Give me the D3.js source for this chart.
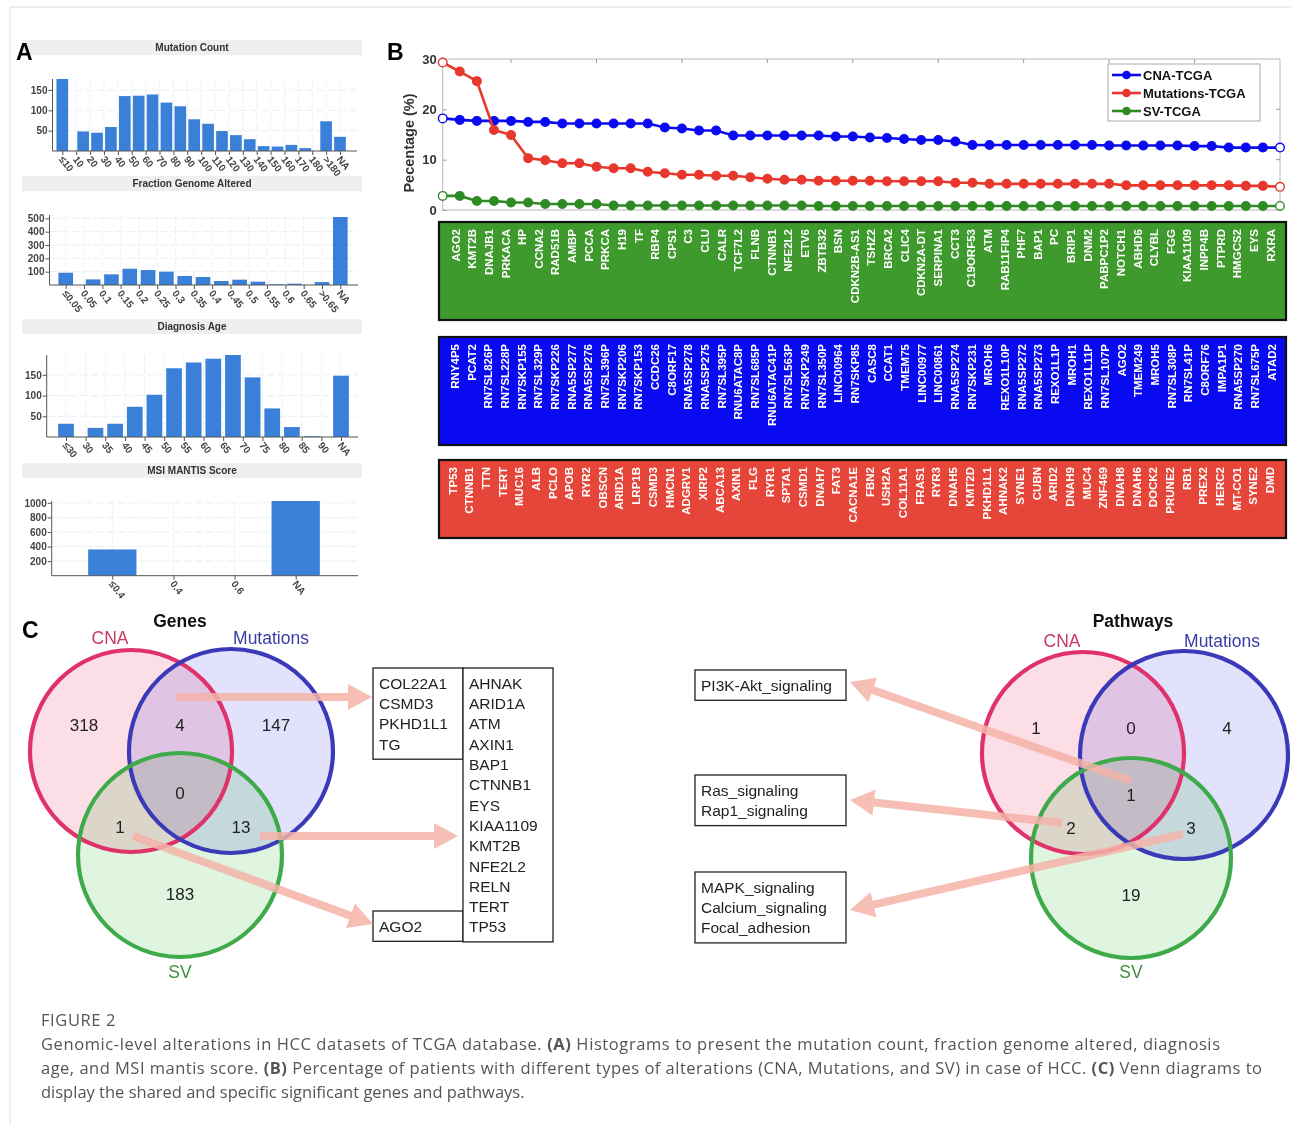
<!DOCTYPE html>
<html lang="en">
<head>
<meta charset="UTF-8">
<title>Figure 2 - Genomic-level alterations in HCC (TCGA)</title>
<script src="https://d3js.org/d3.v7.min.js"></script>
<style>
	body { margin: 0; background: #fff; }
	svg { display: block; }
	.htitle { font-family: "Liberation Sans", Arial, sans-serif; font-size: 10px; font-weight: bold; fill: #333; }
	.hax text { font-family: "Liberation Sans", Arial, sans-serif; font-size: 10px; font-weight: bold; fill: #444; }
	.hax path, .hax line { stroke: #555; }
	.bax text { font-family: "Liberation Sans", Arial, sans-serif; font-size: 13px; font-weight: bold; fill: #333; }
	.gene { font-family: "Liberation Sans", Arial, sans-serif; font-size: 11.5px; font-weight: bold; fill: #fff; }
	.venn { font-family: "Liberation Sans", Arial, sans-serif; }
	.cap { font-family: "Open Sans", "Noto Sans", sans-serif; fill: #555; }
</style>
</head>
<body>
<svg id="fig" width="1292" height="1124"></svg>
<script>

	// ---------- panel A : histograms ----------
	var mutTicks = ["≤10", "10", "20", "30", "40", "50", "60", "70", "80", "90", "100", "110", "120", "130", "140", "150", "160", "170", "180", ">180", "NA"];
	var mutBins = ["≤10", "10-20", "20-30", "30-40", "40-50", "50-60", "60-70", "70-80", "80-90", "90-100", "100-110", "110-120", "120-130", "130-140", "140-150", "150-160", "160-170", "170-180", ">180", "NA"];
	var mutCounts = [177, 48, 45, 59, 135, 136, 139, 119, 110, 78, 67, 49, 39, 29, 12, 11, 15, 7, 73, 35];

	var fgaTicks = ["≤0.05", "0.05", "0.1", "0.15", "0.2", "0.25", "0.3", "0.35", "0.4", "0.45", "0.5", "0.55", "0.6", "0.65", ">0.65", "NA"];
	var fgaBins = ["≤0.05", "0.05-0.1", "0.1-0.15", "0.15-0.2", "0.2-0.25", "0.25-0.3", "0.3-0.35", "0.35-0.4", "0.4-0.45", "0.45-0.5", "0.5-0.55", "0.55-0.6", "0.6-0.65", ">0.65", "NA"];
	var fgaCounts = [92, 42, 80, 122, 112, 100, 68, 60, 30, 40, 25, 5, 10, 22, 510];

	var ageTicks = ["≤30", "30", "35", "40", "45", "50", "55", "60", "65", "70", "75", "80", "85", "90", "NA"];
	var ageBins = ["≤30", "30-35", "35-40", "40-45", "45-50", "50-55", "55-60", "60-65", "65-70", "70-75", "75-80", "80-85", "85-90", "NA"];
	var ageCounts = [32, 22, 32, 73, 102, 166, 180, 189, 198, 144, 69, 24, 2, 148];

	var msiTicks = ["≤0.4", "0.4", "0.6", "NA"];
	var msiBins = ["≤0.4", "0.4-0.6", "NA"];
	var msiCounts = [360, 0, 1025];

	// ---------- panel B : percentage of patients ----------
	var cnaPct = [18.2, 17.9, 17.7, 17.7, 17.7, 17.5, 17.5, 17.2, 17.2, 17.2, 17.2, 17.2, 17.2, 16.4, 16.2, 15.8, 15.8, 14.8, 14.8, 14.8,
		14.8, 14.8, 14.8, 14.6, 14.6, 14.4, 14.3, 14.1, 13.9, 13.9, 13.6, 12.9, 12.9, 12.9, 12.9, 12.9, 12.9, 12.9, 12.9, 12.8,
		12.8, 12.8, 12.8, 12.8, 12.7, 12.7, 12.4, 12.4, 12.4, 12.4];
	var mutPct = [29.3, 27.5, 25.6, 15.9, 14.9, 10.3, 9.9, 9.3, 9.3, 8.6, 8.3, 8.3, 7.6, 7.3, 7.0, 7.0, 6.8, 6.8, 6.5, 6.2,
		6.0, 6.0, 5.8, 5.8, 5.8, 5.8, 5.7, 5.7, 5.7, 5.7, 5.4, 5.4, 5.2, 5.2, 5.2, 5.2, 5.2, 5.2, 5.2, 5.2,
		4.9, 4.9, 4.9, 4.9, 4.9, 4.9, 4.9, 4.8, 4.8, 4.6];
	var svPct = [2.8, 2.8, 1.8, 1.8, 1.5, 1.5, 1.2, 1.2, 1.2, 1.2, 0.9, 0.9, 0.9, 0.9, 0.9, 0.9, 0.9, 0.9, 0.9, 0.9,
		0.9, 0.9, 0.8, 0.8, 0.8, 0.8, 0.8, 0.8, 0.8, 0.8, 0.8, 0.8, 0.8, 0.8, 0.8, 0.8, 0.8, 0.8, 0.8, 0.8,
		0.8, 0.8, 0.8, 0.8, 0.8, 0.8, 0.8, 0.8, 0.8, 0.8];
	var seriesNames = ["CNA-TCGA", "Mutations-TCGA", "SV-TCGA"];

	var svGenes = ["AGO2", "KMT2B", "DNAJB1", "PRKACA", "HP", "CCNA2", "RAD51B", "AMBP", "PCCA", "PRKCA", "H19", "TF", "RBP4", "CPS1", "C3", "CLU", "CALR", "TCF7L2", "FLNB", "CTNNB1",
		"NFE2L2", "ETV6", "ZBTB32", "BSN", "CDKN2B-AS1", "TSHZ2", "BRCA2", "CLIC4", "CDKN2A-DT", "SERPINA1", "CCT3", "C19ORF53", "ATM", "RAB11FIP4", "PHF7", "BAP1", "PC", "BRIP1", "DNM2", "PABPC1P2",
		"NOTCH1", "ABHD6", "CLYBL", "FGG", "KIAA1109", "INPP4B", "PTPRD", "HMGCS2", "EYS", "RXRA"];
	var cnaGenes = ["RNY4P5", "PCAT2", "RN7SL826P", "RN7SL228P", "RN7SKP155", "RN7SL329P", "RN7SKP226", "RNA5SP277", "RNA5SP276", "RN7SL396P", "RN7SKP206", "RN7SKP153", "CCDC26", "C8ORF17", "RNA5SP278", "RNA5SP275", "RN7SL395P", "RNU6ATAC8P", "RN7SL685P", "RNU6ATAC41P",
		"RN7SL563P", "RN7SKP249", "RN7SL350P", "LINC00964", "RN7SKP85", "CASC8", "CCAT1", "TMEM75", "LINC00977", "LINC00861", "RNA5SP274", "RN7SKP231", "MROH6", "REXO1L10P", "RNA5SP272", "RNA5SP273", "REXO1L1P", "MROH1", "REXO1L11P", "RN7SL107P",
		"AGO2", "TMEM249", "MROH5", "RN7SL308P", "RN7SL41P", "C8ORF76", "IMPA1P1", "RNA5SP270", "RN7SL675P", "ATAD2"];
	var mutGenes = ["TP53", "CTNNB1", "TTN", "TERT", "MUC16", "ALB", "PCLO", "APOB", "RYR2", "OBSCN", "ARID1A", "LRP1B", "CSMD3", "HMCN1", "ADGRV1", "XIRP2", "ABCA13", "AXIN1", "FLG", "RYR1",
		"SPTA1", "CSMD1", "DNAH7", "FAT3", "CACNA1E", "FBN2", "USH2A", "COL11A1", "FRAS1", "RYR3", "DNAH5", "KMT2D", "PKHD1L1", "AHNAK2", "SYNE1", "CUBN", "ARID2", "DNAH9", "MUC4", "ZNF469",
		"DNAH8", "DNAH6", "DOCK2", "PRUNE2", "RB1", "PREX2", "HERC2", "MT-CO1", "SYNE2", "DMD"];

	// ---------- panel C : venn diagrams ----------
	var vennSets = ["CNA", "Mutations", "SV"];
	// regions: CNA only, CNA&Mut, Mut only, all three, CNA&SV, Mut&SV, SV only
	var geneCounts = [318, 4, 147, 0, 1, 13, 183];
	var pathCounts = [1, 0, 4, 1, 2, 3, 19];
	var geneBoxCnaMut = ["COL22A1", "CSMD3", "PKHD1L1", "TG"];
	var geneBoxCnaSv = ["AGO2"];
	var geneBoxMutSv = ["AHNAK", "ARID1A", "ATM", "AXIN1", "BAP1", "CTNNB1", "EYS", "KIAA1109", "KMT2B", "NFE2L2", "RELN", "TERT", "TP53"];
	var pathBoxAll = ["PI3K-Akt_signaling"];
	var pathBoxCnaSv = ["Ras_signaling", "Rap1_signaling"];
	var pathBoxMutSv = ["MAPK_signaling", "Calcium_signaling", "Focal_adhesion"];

	var svg = d3.select("#fig");

	// page frame
	svg.append("line").attr("x1", 10).attr("y1", 7).attr("x2", 1292).attr("y2", 7).attr("stroke", "#ddd");
	svg.append("line").attr("x1", 10).attr("y1", 7).attr("x2", 10).attr("y2", 1124).attr("stroke", "#ddd");

	function panelLetter(t, x, y) {
		svg.append("text").attr("x", x).attr("y", y).text(t)
			.attr("font-family", "Liberation Sans, Arial, sans-serif")
			.attr("font-size", 23).attr("font-weight", "bold").attr("fill", "#000");
	}

	// position of a bin in tick units: on its own tick, or half way between two ticks
	function binPos(bin, ticks) {
		var i = ticks.indexOf(bin);
		if (i >= 0) return i;
		var p = bin.split("-");
		return (ticks.indexOf(p[0]) + ticks.indexOf(p[1])) / 2;
	}

	function drawHist(o) {
		var g = svg.append("g");
		g.append("rect").attr("x", 22).attr("y", o.head).attr("width", 340).attr("height", 15).attr("fill", "#efefef");
		g.append("text").attr("class", "htitle").attr("x", 192).attr("y", o.head + 10.5)
			.attr("text-anchor", "middle").text(o.title);

		var x = d3.scaleLinear().domain([0, o.ticks.length - 1]).range(o.xr);
		var y = d3.scaleLinear().domain([0, o.yMax]).range([o.base, o.top]);

		// light grid
		g.selectAll("line.gy").data(o.yTicks).enter().append("line")
			.attr("x1", o.x0).attr("x2", o.x1)
			.attr("y1", function (d) { return y(d); }).attr("y2", function (d) { return y(d); })
			.attr("stroke", "#e9eef2").attr("stroke-dasharray", "8,3");
		g.selectAll("line.gx").data(d3.range(o.ticks.length)).enter().append("line")
			.attr("x1", function (d) { return x(d); }).attr("x2", function (d) { return x(d); })
			.attr("y1", o.top).attr("y2", o.base)
			.attr("stroke", "#eef2f5").attr("stroke-dasharray", "8,3");

		var bw = (x(1) - x(0)) * o.bw;
		g.selectAll("rect.bar").data(o.counts).enter().append("rect")
			.attr("x", function (d, i) { return x(binPos(o.bins[i], o.ticks)) - bw / 2; })
			.attr("y", function (d) { return y(d); })
			.attr("width", bw)
			.attr("height", function (d) { return o.base - y(d); })
			.attr("fill", "#3b80d8");

		var ya = g.append("g").attr("class", "hax").attr("transform", "translate(" + o.x0 + ",0)")
			.call(d3.axisLeft(y).tickValues(o.yTicks).tickFormat(d3.format("d")).tickSize(4).tickPadding(1).tickSizeOuter(0));
		ya.select(".domain").attr("d", "M0," + o.base + "V" + o.top);

		var xa = g.append("g").attr("class", "hax").attr("transform", "translate(0," + o.base + ")")
			.call(d3.axisBottom(x).tickValues(d3.range(o.ticks.length))
				.tickFormat(function (i) { return o.ticks[i]; }).tickSize(4).tickSizeOuter(0));
		xa.select(".domain").attr("d", "M" + o.x0 + ",0H" + o.x1);
		xa.selectAll("text").attr("transform", "rotate(52)").attr("x", 4).attr("y", 5)
			.attr("dy", "0.35em").style("text-anchor", "start");
	}

	drawHist({ title: "Mutation Count", head: 40, ticks: mutTicks, bins: mutBins, counts: mutCounts,
		x0: 52.5, x1: 357, xr: [62.3, 340], base: 151, top: 79, yMax: 177, yTicks: [50, 100, 150], bw: 0.84 });
	drawHist({ title: "Fraction Genome Altered", head: 176, ticks: fgaTicks, bins: fgaBins, counts: fgaCounts,
		x0: 49.5, x1: 358, xr: [65.7, 340.3], base: 285, top: 215, yMax: 525, yTicks: [100, 200, 300, 400, 500], bw: 0.8 });
	drawHist({ title: "Diagnosis Age", head: 319, ticks: ageTicks, bins: ageBins, counts: ageCounts,
		x0: 46.7, x1: 358, xr: [66, 341], base: 437, top: 355, yMax: 198, yTicks: [50, 100, 150], bw: 0.8 });
	drawHist({ title: "MSI MANTIS Score", head: 463, ticks: msiTicks, bins: msiBins, counts: msiCounts,
		x0: 51.7, x1: 358, xr: [112.3, 295.7], base: 575.7, top: 501, yMax: 1025, yTicks: [200, 400, 600, 800, 1000], bw: 0.79 });

	// ---------- panel B ----------
	var bx = d3.scaleLinear().domain([1, 50]).range([442.7, 1280]);
	var by = d3.scaleLinear().domain([0, 30]).range([210, 59]);
	var bcol = ["#0a0af0", "#e8372c", "#2f8a24"];
	var bseries = [cnaPct, mutPct, svPct];

	var gb = svg.append("g");
	gb.append("rect").attr("x", bx(1)).attr("y", by(30)).attr("width", bx(50) - bx(1)).attr("height", by(0) - by(30))
		.attr("fill", "none").attr("stroke", "#b8b8b8").attr("stroke-width", 1);
	var xt = d3.range(5, 50, 5);
	gb.selectAll("line.tt").data(xt).enter().append("line")
		.attr("x1", function (d) { return bx(d); }).attr("x2", function (d) { return bx(d); })
		.attr("y1", by(30)).attr("y2", by(30) + 4).attr("stroke", "#999");
	gb.selectAll("line.rt").data([10, 20]).enter().append("line")
		.attr("x1", bx(50)).attr("x2", bx(50) - 4)
		.attr("y1", function (d) { return by(d); }).attr("y2", function (d) { return by(d); }).attr("stroke", "#999");
	var yaxB = gb.append("g").attr("class", "bax").attr("transform", "translate(" + bx(1) + ",0)")
		.call(d3.axisLeft(by).tickValues([0, 10, 20, 30]).tickSize(-4).tickPadding(6).tickSizeOuter(0));
	yaxB.select(".domain").remove();
	yaxB.selectAll("line").attr("stroke", "#999");
	gb.append("text").attr("transform", "translate(414,143) rotate(-90)").attr("text-anchor", "middle")
		.attr("font-family", "Liberation Sans, Arial, sans-serif").attr("font-size", 14.5).attr("font-weight", "bold")
		.attr("fill", "#333").text("Pecentage (%)");

	var line = d3.line().x(function (d, i) { return bx(i + 1); }).y(function (d) { return by(d); });
	bseries.forEach(function (s, k) {
		gb.append("path").datum(s).attr("d", line).attr("fill", "none")
			.attr("stroke", bcol[k]).attr("stroke-width", 2.6);
		gb.selectAll("circle.s" + k).data(s).enter().append("circle")
			.attr("cx", function (d, i) { return bx(i + 1); })
			.attr("cy", function (d) { return by(d); })
			.attr("r", 4.3)
			.attr("fill", function (d, i) { return (i === 0 || i === s.length - 1) ? "#fff" : bcol[k]; })
			.attr("stroke", bcol[k]).attr("stroke-width", 1.4);
	});

	// legend
	var lg = gb.append("g").attr("transform", "translate(1108,64)");
	lg.append("rect").attr("width", 152).attr("height", 57).attr("fill", "#fff").attr("stroke", "#aaa");
	seriesNames.forEach(function (n, k) {
		var yy = 11 + k * 18;
		lg.append("line").attr("x1", 4).attr("x2", 33).attr("y1", yy).attr("y2", yy).attr("stroke", bcol[k]).attr("stroke-width", 2.6);
		lg.append("circle").attr("cx", 18.5).attr("cy", yy).attr("r", 4.3).attr("fill", bcol[k]);
		lg.append("text").attr("x", 35).attr("y", yy + 5).text(n)
			.attr("font-family", "Liberation Sans, Arial, sans-serif").attr("font-size", 13).attr("font-weight", "bold").attr("fill", "#111");
	});

	// gene name strips
	function geneStrip(genes, fill, top, bottom, xr) {
		var g = svg.append("g");
		g.append("rect").attr("x", 439).attr("y", top).attr("width", 847).attr("height", bottom - top)
			.attr("fill", fill).attr("stroke", "#111").attr("stroke-width", 2.2);
		var px = d3.scalePoint().domain(genes).range(xr);
		g.selectAll("text").data(genes).enter().append("text").attr("class", "gene")
			.attr("transform", function (d) { return "translate(" + px(d) + "," + (top + 7) + ") rotate(-90)"; })
			.attr("dy", "0.36em").attr("text-anchor", "end").text(function (d) { return d; });
	}
	geneStrip(svGenes, "#3f9a2e", 222, 320, [455.5, 1270.5]);
	geneStrip(cnaGenes, "#0909f2", 337, 445, [455, 1271.5]);
	geneStrip(mutGenes, "#e6463a", 460, 538, [452.5, 1270]);

	// ---------- panel C ----------
	var vcol = { stroke: ["#e0326a", "#3a3ab8", "#3faa4a"], fill: ["#f26a93", "#7b7bf0", "#6fd36f"], text: ["#c93a62", "#3b3ba6", "#3d8f3d"] };

	function arrow(x1, y1, x2, y2) {
		var dx = x2 - x1, dy = y2 - y1, L = Math.sqrt(dx * dx + dy * dy);
		var ux = dx / L, uy = dy / L, nx = -uy, ny = ux;
		var sw = 4, hl = 24, hw = 13;
		var bxp = x2 - ux * hl, byp = y2 - uy * hl;
		var pts = [[x1 + nx * sw, y1 + ny * sw], [bxp + nx * sw, byp + ny * sw], [bxp + nx * hw, byp + ny * hw], [x2, y2],
			[bxp - nx * hw, byp - ny * hw], [bxp - nx * sw, byp - ny * sw], [x1 - nx * sw, y1 - ny * sw]];
		svg.append("polygon").attr("points", pts.map(function (p) { return p.join(","); }).join(" "))
			.attr("fill", "#f4b3a8").attr("fill-opacity", 0.85);
	}

	function venn(o) {
		var g = svg.append("g").attr("class", "venn");
		o.circles.forEach(function (c, k) {
			g.append("circle").attr("cx", c[0]).attr("cy", c[1]).attr("r", c[2])
				.attr("fill", vcol.fill[k]).attr("fill-opacity", 0.22).style("mix-blend-mode", "multiply");
		});
		o.circles.forEach(function (c, k) {
			g.append("circle").attr("cx", c[0]).attr("cy", c[1]).attr("r", c[2])
				.attr("fill", "none").attr("stroke", vcol.stroke[k]).attr("stroke-width", 4.2);
		});
		vennSets.forEach(function (s, k) {
			g.append("text").attr("x", o.labels[k][0]).attr("y", o.labels[k][1]).attr("text-anchor", "middle")
				.attr("font-size", 17.5).attr("fill", vcol.text[k]).text(s);
		});
		g.selectAll("text.n").data(o.counts).enter().append("text")
			.attr("x", function (d, i) { return o.numPos[i][0]; })
			.attr("y", function (d, i) { return o.numPos[i][1] + 6; })
			.attr("text-anchor", "middle").attr("font-size", 17).attr("fill", "#222")
			.text(function (d) { return d; });
		g.append("text").attr("x", o.title[0]).attr("y", o.title[1]).attr("text-anchor", "middle")
			.attr("font-size", 17.5).attr("font-weight", "bold").attr("fill", "#111").text(o.title[2]);
	}

	function listBox(items, x, y, w, lh) {
		var h = items.length * lh + 10;
		svg.append("rect").attr("x", x).attr("y", y).attr("width", w).attr("height", h)
			.attr("fill", "#fff").attr("stroke", "#222").attr("stroke-width", 1.3);
		svg.selectAll(null).data(items).enter().append("text")
			.attr("x", x + 6).attr("y", function (d, i) { return y + 5 + lh * i + lh * 0.78; })
			.attr("font-family", "Liberation Sans, Arial, sans-serif").attr("font-size", 15.5).attr("fill", "#222")
			.text(function (d) { return d; });
	}

	venn({
		circles: [[131, 751, 101], [231, 751, 102], [180, 855, 102]],
		labels: [[110, 644], [271, 644], [180, 978]],
		title: [180, 627, "Genes"],
		counts: geneCounts,
		numPos: [[84, 725], [180, 725], [276, 725], [180, 793], [120, 827], [241, 827], [180, 894]]
	});
	venn({
		circles: [[1083, 753, 101], [1184, 755, 104], [1131, 858, 100]],
		labels: [[1062, 647], [1222, 647], [1131, 978]],
		title: [1133, 627, "Pathways"],
		counts: pathCounts,
		numPos: [[1036, 728], [1131, 728], [1227, 728], [1131, 795], [1071, 828], [1191, 828], [1131, 895]]
	});

	listBox(geneBoxCnaMut, 373, 668, 90, 20.3);
	listBox(geneBoxCnaSv, 373, 911, 90, 20.3);
	listBox(geneBoxMutSv, 463, 668, 90, 20.3);
	listBox(pathBoxAll, 695, 670, 151, 20.3);
	listBox(pathBoxCnaSv, 695, 775, 151, 20.3);
	listBox(pathBoxMutSv, 695, 872, 151, 20.3);

	arrow(176, 697, 372, 697);
	arrow(260, 836, 458, 836);
	arrow(133, 836, 373, 924);
	arrow(1131, 781, 850, 682);
	arrow(1062, 823, 850, 800);
	arrow(1183, 834, 850, 910);

	panelLetter("A", 16, 60);
	panelLetter("B", 387, 60);
	panelLetter("C", 22, 638);

	// ---------- caption ----------
	var cap = svg.append("g").attr("class", "cap");
	cap.append("text").attr("x", 41).attr("y", 1026).attr("font-size", 16.5).attr("letter-spacing", 0.6).text("FIGURE 2");
	var capLines = [
		[["Genomic-level alterations in HCC datasets of TCGA database. ", 0], ["(A)", 1], [" Histograms to present the mutation count, fraction genome altered, diagnosis", 0]],
		[["age, and MSI mantis score. ", 0], ["(B)", 1], [" Percentage of patients with different types of alterations (CNA, Mutations, and SV) in case of HCC. ", 0], ["(C)", 1], [" Venn diagrams to", 0]],
		[["display the shared and specific significant genes and pathways.", 0]]
	];
	var capW = [1179, 1221, null];
	capLines.forEach(function (ln, i) {
		var t = cap.append("text").attr("x", 41).attr("y", 1050 + i * 24).attr("font-size", 16.5);
		if (capW[i]) t.attr("textLength", capW[i]).attr("lengthAdjust", "spacing");
		ln.forEach(function (s) {
			t.append("tspan").attr("font-weight", s[1] ? "bold" : "normal").text(s[0]);
		});
	});

</script>
</body>
</html>
